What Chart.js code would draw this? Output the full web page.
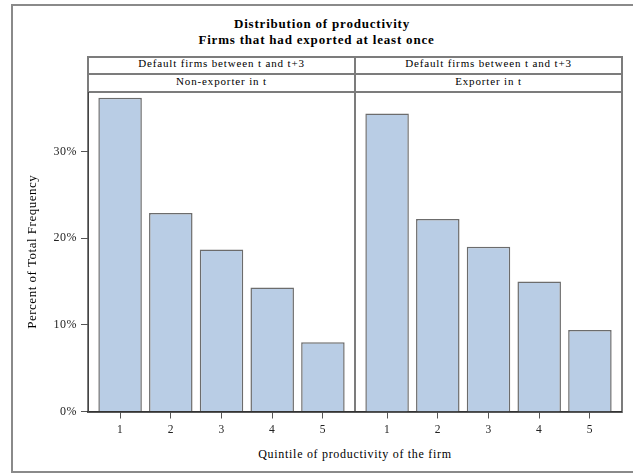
<!DOCTYPE html>
<html>
<head>
<meta charset="utf-8">
<title>Distribution of productivity</title>
<script src="https://cdn.jsdelivr.net/npm/chart.js@4.4.1/dist/chart.umd.min.js"></script>
<style>
  html, body { margin: 0; padding: 0; background: #fff; }
  body {
    width: 633px; height: 474px; position: relative; overflow: hidden;
    font-family: "Liberation Serif", "Times New Roman", serif; color: #000;
  }
  #frame {
    position: absolute; left: 11px; top: 4px; width: 640px; height: 469px;
    box-sizing: border-box; border: 2px solid #8a8a8a;
  }
  .title {
    position: absolute; white-space: nowrap; font-weight: bold; font-size: 13px;
    line-height: 16px; letter-spacing: 0.8px; transform: translateX(-50%);
  }
  .strip {
    position: absolute; box-sizing: border-box; border: 2px solid #7c7c7c;
    background: #fff; font-size: 11px; letter-spacing: 0.85px; text-align: center;
    white-space: nowrap; color: #000;
  }
  .panel {
    position: absolute; box-sizing: border-box; border: 2px solid #7c7c7c;
  }
  canvas { position: absolute; }
  #xTitle {
    position: absolute; top: 447px; font-size: 12px; line-height: 14px;
    letter-spacing: 0.7px; white-space: nowrap; transform: translateX(-50%); color: #000;
  }
</style>
</head>
<body>
<div id="frame"></div>

<div class="title" style="left:322px; top:15.5px;">Distribution of productivity</div>
<div class="title" style="left:316.5px; top:32px;">Firms that had exported at least once</div>

<div class="strip" id="stripA1" style="left:87px; top:56px; width:269px; height:19px; line-height:11px;"></div>
<div class="strip" id="stripB1" style="left:354px; top:56px; width:269px; height:19px; line-height:11px;"></div>
<div class="strip" id="stripA2" style="left:87px; top:73px; width:269px; height:20px; line-height:13px;"></div>
<div class="strip" id="stripB2" style="left:354px; top:73px; width:269px; height:20px; line-height:13px;"></div>

<div class="panel" style="left:87px; top:91px; width:269px; height:322px;"></div>
<div class="panel" style="left:354px; top:91px; width:269px; height:322px;"></div>

<canvas id="leftPanel" width="343" height="348" style="left:12px; top:92px;"></canvas>
<canvas id="rightPanel" width="267" height="348" style="left:355px; top:92px;"></canvas>

<div id="xTitle" style="left:355px;"></div>

<script>
// Quintiles of firm productivity (x categories)
const quintiles = [1, 2, 3, 4, 5];

// Percent of total frequency per quintile, firms defaulting between t and t+3
const nonExporterPct = [36.2, 22.9, 18.7, 14.3, 8.0];
const exporterPct    = [34.4, 22.2, 19.0, 15.0, 9.4];

// Value-axis ticks
const yTickValues = [0, 10, 20, 30];

// Panel headings
const groupLabel  = 'Default firms between t and t+3';
const panelLabels = ['Non-exporter in t', 'Exporter in t'];

// Axis titles
const yAxisTitle = 'Percent of Total Frequency';
const xAxisTitle = 'Quintile of productivity of the firm';

// Axis ranges
const Y_MAX = 36.87;
const X_MIN = 0.367;
const X_MAX = 5.633;

document.getElementById('stripA1').textContent = groupLabel;
document.getElementById('stripB1').textContent = groupLabel;
document.getElementById('stripA2').textContent = panelLabels[0];
document.getElementById('stripB2').textContent = panelLabels[1];
document.getElementById('xTitle').textContent = xAxisTitle;

const SERIF = "'Liberation Serif', 'Times New Roman', serif";
Chart.defaults.font.family = SERIF;

const spacedText = {
  id: 'spacedText',
  beforeDraw(chart) { chart.ctx.letterSpacing = '0.5px'; }
};

function panelConfig(values, showY) {
  return {
    type: 'bar',
    data: {
      datasets: [{
        data: quintiles.map((q, i) => ({ x: q, y: values[i] })),
        backgroundColor: '#b9cde5',
        borderColor: '#6c6c6c',
        borderWidth: 1.5,
        barPercentage: 0.858,
        categoryPercentage: 1.0
      }]
    },
    options: {
      responsive: false,
      animation: false,
      events: [],
      layout: { padding: 0 },
      plugins: { legend: { display: false }, tooltip: { enabled: false }, title: { display: false } },
      scales: {
        x: {
          type: 'linear',
          min: X_MIN, max: X_MAX, offset: false,
          afterBuildTicks: s => { s.ticks = quintiles.map(v => ({ value: v })); },
          afterFit: s => {
            s.height = 28.5;
            s.paddingLeft = 0; s.paddingRight = 0;
          },
          ticks: {
            callback: v => String(v), autoSkip: false, maxRotation: 0,
            font: { family: SERIF, size: 11.5 }, color: '#222', padding: 5
          },
          grid: {
            offset: false, drawOnChartArea: false, drawTicks: true,
            tickLength: 7, tickColor: '#555', tickWidth: 1
          },
          border: { display: true, color: '#333', width: 1.5 }
        },
        y: {
          display: showY,
          min: 0, max: Y_MAX,
          afterBuildTicks: s => { s.ticks = yTickValues.map(v => ({ value: v })); },
          afterFit: s => {
            s.width = showY ? 76 : 0;
            s.paddingTop = 0; s.paddingBottom = 0;
          },
          ticks: {
            callback: v => v + '%',
            font: { family: SERIF, size: 12 }, color: '#222', padding: 4
          },
          grid: { drawOnChartArea: false, drawTicks: true, tickLength: 7, tickColor: '#555', tickWidth: 1 },
          border: { display: true, color: '#444', width: 1 },
          title: {
            display: true, text: yAxisTitle, color: '#000',
            font: { family: SERIF, size: 13 }, padding: { top: 13, bottom: 0 }
          }
        }
      }
    },
    plugins: [spacedText]
  };
}

new Chart(document.getElementById('leftPanel'), panelConfig(nonExporterPct, true));
new Chart(document.getElementById('rightPanel'), panelConfig(exporterPct, false));
</script>
</body>
</html>
